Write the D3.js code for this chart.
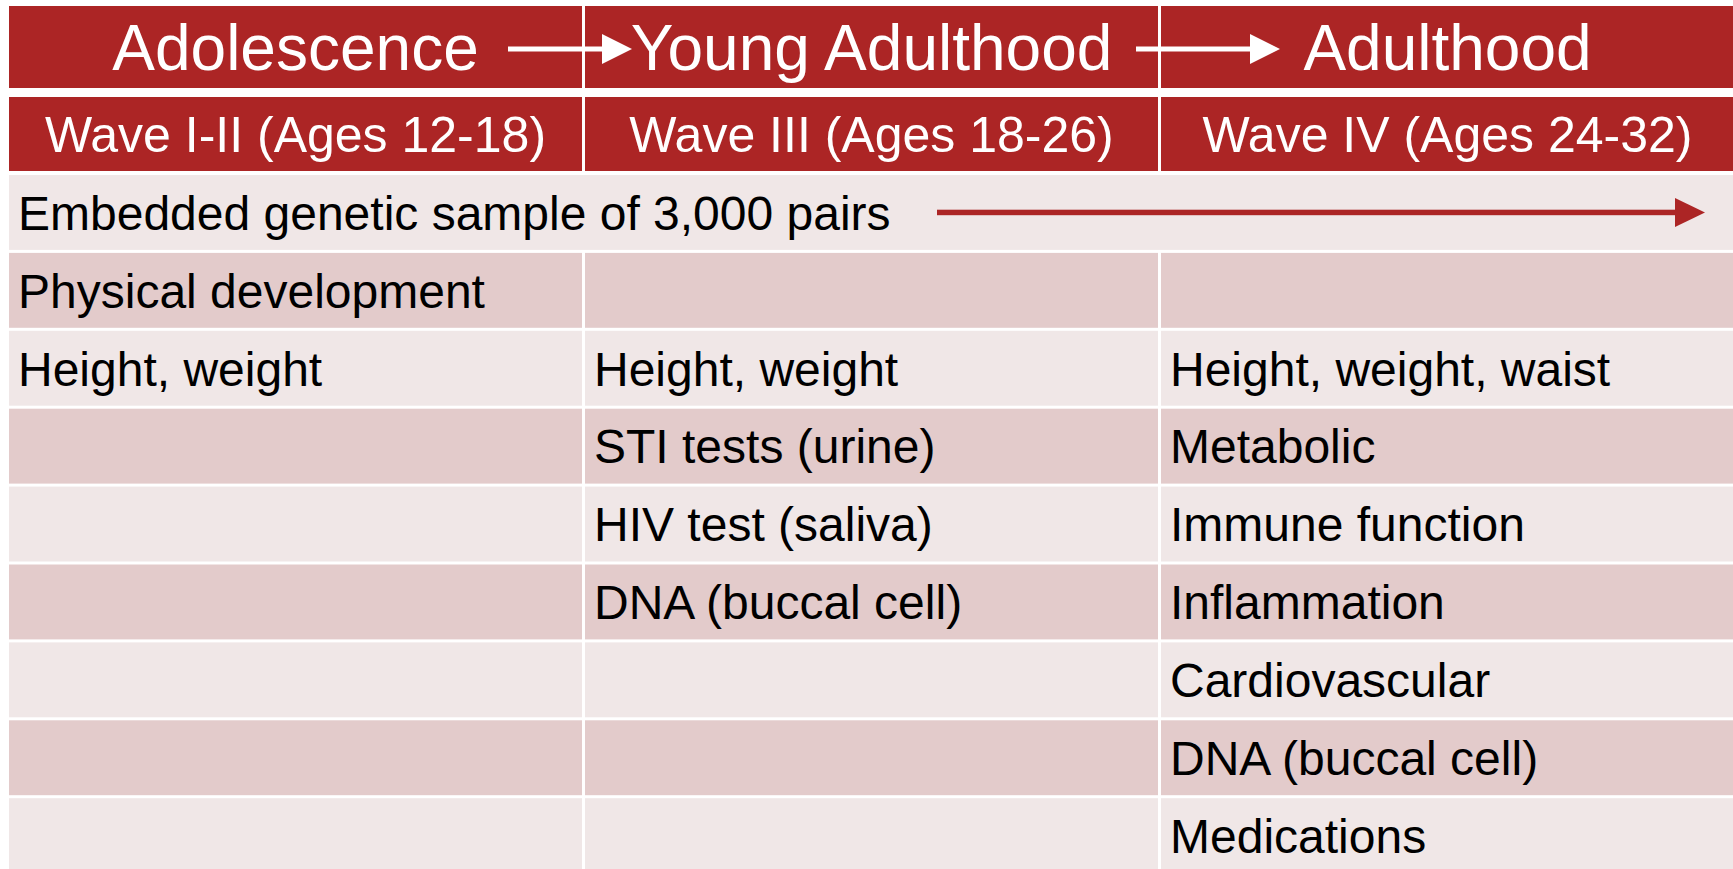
<!DOCTYPE html>
<html>
<head>
<meta charset="utf-8">
<script src="https://cdn.jsdelivr.net/npm/d3@7"></script>
<style>
  html, body { margin: 0; padding: 0; background: #fff; overflow: hidden; }
  svg { display: block; font-family: "Liberation Sans", Arial, sans-serif; }
</style>
</head>
<body>
<div id="chart"></div>
<script>
// table content
const stages = ["Adolescence", "Young Adulthood", "Adulthood"];
const waves = ["Wave I-II (Ages 12-18)", "Wave III (Ages 18-26)", "Wave IV (Ages 24-32)"];
const spanRow = "Embedded genetic sample of 3,000 pairs";
const wave12 = ["Physical development", "Height, weight", "", "", "", "", "", ""];
const wave3  = ["", "Height, weight", "STI tests (urine)", "HIV test (saliva)", "DNA (buccal cell)", "", "", ""];
const wave4  = ["", "Height, weight, waist", "Metabolic", "Immune function", "Inflammation", "Cardiovascular", "DNA (buccal cell)", "Medications"];

const width = 1733, height = 869;
const red = "#ac2525", light = "#f0e7e7", dark = "#e3cbcb";

const svg = d3.select("#chart").append("svg")
    .attr("width", width)
    .attr("height", height);

const x = d3.scaleBand()
    .domain(d3.range(stages.length))
    .range([9, 1734])
    .paddingInner(3 / 576);

// body rows: the spanning row + the grid rows
const bodyRows = d3.range(wave12.length + 1);
const y = d3.scaleBand()
    .domain(bodyRows)
    .range([175, 175 + 9 * 77.9 - 3])
    .paddingInner(3 / 77.9);

const head = [{top: 6, h: 82, size: 64, labels: stages},
              {top: 97, h: 74, size: 50, labels: waves}];

// header rows
head.forEach(function(r){
  const g = svg.append("g");
  g.selectAll("rect")
    .data(r.labels)
    .enter().append("rect")
    .attr("x", (d, i) => x(i))
    .attr("y", r.top)
    .attr("width", x.bandwidth())
    .attr("height", r.h)
    .attr("fill", red);
  g.selectAll("text")
    .data(r.labels)
    .enter().append("text")
    .attr("x", (d, i) => x(i) + x.bandwidth() / 2)
    .attr("y", r.top + r.h / 2 + 0.36 * r.size)
    .attr("text-anchor", "middle")
    .attr("font-size", r.size)
    .attr("fill", "#fff")
    .text(d => d);
});

// arrows
function arrow(g, x0, x1, yc, thick, headW, headH, col){
  g.append("rect")
    .attr("x", x0).attr("y", yc - thick / 2)
    .attr("width", x1 - headW - x0 + 1).attr("height", thick)
    .attr("fill", col);
  g.append("path")
    .attr("d", "M" + (x1 - headW) + "," + (yc - headH / 2) + "L" + x1 + "," + yc + "L" + (x1 - headW) + "," + (yc + headH / 2) + "Z")
    .attr("fill", col);
}
const arrows = svg.append("g");
const yArrow = head[0].top + 43;
arrow(arrows, x(0) + x.bandwidth() - 74, x(1) + 47, yArrow, 5, 30, 30, "#fff");
arrow(arrows, x(1) + x.bandwidth() - 22, x(2) + 119, yArrow, 5, 30, 30, "#fff");

// body
const fs = 48;
const pad = 9;
const body = svg.append("g");

// spanning row
body.append("rect")
  .attr("x", x(0))
  .attr("y", y(0))
  .attr("width", x(2) + x.bandwidth() - x(0))
  .attr("height", y.bandwidth())
  .attr("fill", light);
body.append("text")
  .attr("x", x(0) + pad)
  .attr("y", y(0) + y.bandwidth() / 2 + 0.36 * fs)
  .attr("font-size", fs)
  .attr("fill", "#000")
  .text(spanRow);
arrow(body, x(1) + 352, x(2) + 544, y(0) + y.bandwidth() / 2, 5.5, 30, 29, red);

const cols = [wave12, wave3, wave4];
cols.forEach(function(list, c){
  const g = body.append("g");
  g.selectAll("rect")
    .data(list)
    .enter().append("rect")
    .attr("x", x(c))
    .attr("y", (d, i) => y(i + 1))
    .attr("width", x.bandwidth())
    .attr("height", y.bandwidth())
    .attr("fill", (d, i) => (i + 1) % 2 === 0 ? light : dark);
  g.selectAll("text")
    .data(list)
    .enter().append("text")
    .attr("x", x(c) + pad)
    .attr("y", (d, i) => y(i + 1) + y.bandwidth() / 2 + 0.36 * fs)
    .attr("font-size", fs)
    .attr("fill", "#000")
    .text(d => d);
});
</script>
</body>
</html>
